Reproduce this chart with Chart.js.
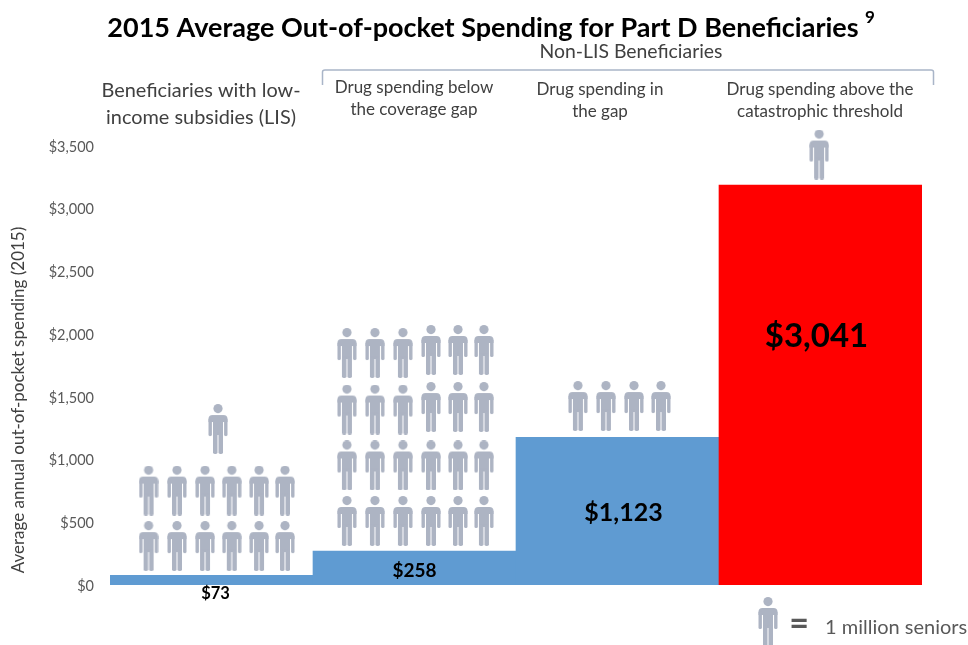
<!DOCTYPE html>
<html>
<head>
<meta charset="utf-8">
<title>Part D out-of-pocket spending</title>
<script src="https://cdn.jsdelivr.net/npm/chart.js@4"></script>
<style>
    html, body { margin: 0; padding: 0; background: #ffffff; overflow: hidden; }
    canvas { display: block; }
</style>
</head>
<body>
<canvas id="spendingChart" width="968" height="645"></canvas>
<script>
// 차트 데이터
const categories = [
    ['Beneficiaries with low-', 'income subsidies (LIS)'],
    ['Drug spending below', 'the coverage gap'],
    ['Drug spending in', 'the gap'],
    ['Drug spending above the', 'catastrophic threshold']
];
const spending = [73, 258, 1123, 3041];
const millionsOfSeniors = [13, 24, 4, 1];
const tickValues = [0, 500, 1000, 1500, 2000, 2500, 3000, 3500];

const BAR_BLUE = '#5f9bd2';
const BAR_RED = '#ff0000';
const PERSON_GREY = '#adb4c3';
const TEXT_DARK = '#404040';
const TEXT_GREY = '#595959';
const FONT = 'Lato, "Open Sans", sans-serif';

// 막대 축은 눈금 축보다 조금 더 촘촘하다
const BAR_AXIS_MAX = 3338;

// 픽토그램 격자 (x: 카테고리 내 비율, y: 막대 축 값)
const sixAcross = [0.19, 0.33, 0.468, 0.60, 0.734, 0.862];
const sixAcrossNarrow = [0.167, 0.305, 0.443, 0.581, 0.714, 0.842];
const personGrid = [
    { cols: sixAcross, rows: [{ y: 296 }, { y: 718 }, { y: 1186, cols: [0.532] }] },
    { cols: sixAcrossNarrow, rows: [{ y: 487 }, { y: 909 }, { y: 1334, lift: 19 }, { y: 1764, lift: 23 }] },
    { cols: [0.305, 0.443, 0.581, 0.714], rows: [{ y: 1361 }] },
    { cols: [0.493], rows: [{ y: 3273 }] }
];

function buildPersonPoints() {
    const points = [];
    millionsOfSeniors.forEach((count, group) => {
        let left = count;
        personGrid[group].rows.forEach(row => {
            const cols = row.cols || personGrid[group].cols;
            cols.forEach((frac, i) => {
                if (left <= 0) return;
                left--;
                const lift = row.lift && i >= 3 ? row.lift : 0;
                points.push({ x: group + frac, y: row.y + lift });
            });
        });
    });
    return points;
}

// 사람 아이콘 한 개를 오프스크린 캔버스에 그린다
function makePersonIcon() {
    const c = document.createElement('canvas');
    c.width = 20;
    c.height = 50;
    const g = c.getContext('2d');
    g.fillStyle = PERSON_GREY;
    g.beginPath();
    g.arc(10, 4.6, 4.6, 0, Math.PI * 2);
    g.fill();
    const pill = (x, y, w, h, r) => {
        g.beginPath();
        g.roundRect(x, y, w, h, r);
        g.fill();
    };
    pill(0.5, 11, 19, 7, [4, 4, 0, 0]);
    pill(0.5, 14, 3.4, 18, 1.5);
    pill(16.1, 14, 3.4, 18, 1.5);
    pill(5, 14, 10, 17, 0);
    pill(5, 28, 4.5, 22, 1.8);
    pill(10.5, 28, 4.5, 22, 1.8);
    return c;
}

const personIcon = makePersonIcon();

function money(v) {
    return '$' + v.toLocaleString('en-US');
}

function putText(ctx, text, x, y, font, color, align) {
    ctx.font = font;
    ctx.fillStyle = color;
    ctx.textAlign = align || 'center';
    ctx.textBaseline = 'middle';
    ctx.fillText(text, x, y);
}

// 제목, 상단 설명, 값 라벨, 범례
const annotationPlugin = {
    id: 'annotations',
    afterDraw(chart) {
        const ctx = chart.ctx;
        const xScale = chart.scales.x;
        ctx.save();

        putText(ctx, '2015 Average Out-of-pocket Spending for Part D Beneficiaries', 483, 28, 'bold 27px ' + FONT, '#000000');
        putText(ctx, '9', 870, 18, 'bold 17px ' + FONT, '#000000');
        putText(ctx, 'Non-LIS Beneficiaries', 631, 52, '19.4px ' + FONT, TEXT_DARK);

        // Non-LIS 괄호
        ctx.strokeStyle = '#a9b5c8';
        ctx.lineWidth = 1.5;
        ctx.beginPath();
        ctx.moveTo(322.5, 85);
        ctx.lineTo(322.5, 72);
        ctx.quadraticCurveTo(322.5, 70, 325, 70);
        ctx.lineTo(931, 70);
        ctx.quadraticCurveTo(933.5, 70, 933.5, 72);
        ctx.lineTo(933.5, 85);
        ctx.stroke();

        // 컬럼 머리글
        const headFonts = ['19.9px ', '17px ', '17px ', '17px '];
        const headY = [[91, 118], [88, 110], [90, 112], [90, 112]];
        const headX = [201, 414, 600, 820];
        categories.forEach((lines, i) => {
            lines.forEach((line, j) => {
                putText(ctx, line, headX[i], headY[i][j], headFonts[i] + FONT, TEXT_DARK);
            });
        });

        // 막대 값 라벨
        const valueFonts = [16.5, 19, 25, 33];
        const valueY = [594, 571, 513, 336];
        const valueOffset = [4, 0, 6, -4];
        spending.forEach((v, i) => {
            putText(ctx, money(v), xScale.getPixelForValue(i) + valueOffset[i], valueY[i], 'bold ' + valueFonts[i] + 'px ' + FONT, '#000000');
        });

        // 세로축 제목
        ctx.save();
        ctx.translate(19, 400);
        ctx.rotate(-Math.PI / 2);
        putText(ctx, 'Average annual out-of-pocket spending (2015)', 0, 0, '17px ' + FONT, TEXT_DARK);
        ctx.restore();

        // 범례
        ctx.drawImage(personIcon, 758, 597, 20, 50);
        putText(ctx, '=', 799, 624, 'bold 34px ' + FONT, TEXT_GREY);
        putText(ctx, '1 million seniors', 825, 628, '20px ' + FONT, TEXT_GREY, 'left');

        ctx.restore();
    }
};

new Chart(document.getElementById('spendingChart'), {
    type: 'bar',
    data: {
        labels: categories,
        datasets: [
            {
                type: 'scatter',
                data: buildPersonPoints(),
                xAxisID: 'xPeople',
                yAxisID: 'yBars',
                pointStyle: personIcon,
                pointRadius: 10,
                showLine: false,
                clip: false
            },
            {
                data: spending,
                xAxisID: 'x',
                yAxisID: 'yBars',
                backgroundColor: [BAR_BLUE, BAR_BLUE, BAR_BLUE, BAR_RED],
                borderWidth: 0,
                grouped: false,
                barPercentage: 1,
                categoryPercentage: 1
            }
        ]
    },
    options: {
        responsive: false,
        animation: false,
        layout: { padding: { top: 146, right: 46, bottom: 60, left: 0 } },
        plugins: {
            legend: { display: false },
            tooltip: { enabled: false }
        },
        scales: {
            x: { display: false, offset: true },
            xPeople: { type: 'linear', display: false, offset: false, min: 0, max: 4 },
            yBars: { display: false, min: 0, max: BAR_AXIS_MAX },
            yTicks: {
                position: 'left',
                min: 0,
                max: 3500,
                afterFit(scale) { scale.width = 110; },
                afterBuildTicks(scale) { scale.ticks = tickValues.map(v => ({ value: v })); },
                grid: { display: false },
                border: { display: false },
                ticks: {
                    padding: 8,
                    labelOffset: 1,
                    autoSkip: false,
                    color: TEXT_GREY,
                    font: { family: FONT, size: 14.5 },
                    callback: v => money(v)
                }
            }
        }
    },
    plugins: [annotationPlugin]
});
</script>
</body>
</html>
